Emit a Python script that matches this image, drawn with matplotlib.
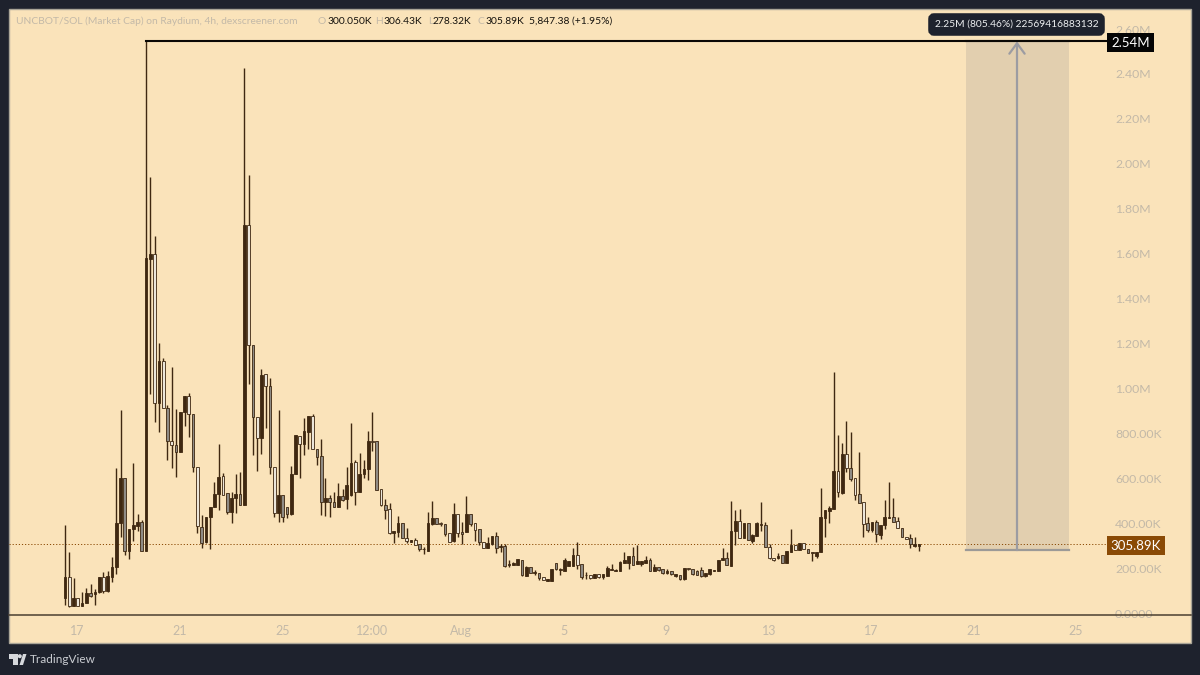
import matplotlib
matplotlib.use('Agg')
import matplotlib.pyplot as plt
from matplotlib.patches import Rectangle, FancyBboxPatch, Polygon, Circle

# 4h candles in thousands of market cap
opens = [66,162,33,66,32,46,91,85,94,159,98,162,206,402,602,278,374,389,407,278,
         1578,1600,936,1121,911,767,748,715,896,965,884,651,384,315,426,473,528,610,533,451,
         510,529,483,1726,1192,873,781,1062,1012,651,446,525,470,439,618,789,752,807,876,732,
         698,492,514,495,473,520,506,525,673,540,617,643,768,765,550,480,461,354,359,399,
         335,317,325,305,283,276,395,421,400,395,355,321,439,362,362,439,399,374,318,291,
         306,343,294,300,213,212,214,236,166,206,179,180,159,144,143,221,193,189,211,211,
         258,218,170,169,157,174,160,166,192,189,188,224,221,255,218,218,221,236,188,206,
         198,176,187,164,169,150,201,194,188,191,164,173,189,188,236,247,210,366,409,335,
         399,322,344,393,391,292,246,243,258,224,273,303,281,310,285,267,255,273,425,456,
         463,634,536,706,644,599,528,496,399,370,404,347,392,425,426,410,377,340,333,298,300]
highs = [392,270,155,66,95,110,129,106,162,181,189,251,644,904,602,374,666,441,414,2545,
         1941,1677,1200,1137,925,1096,909,896,968,980,884,651,436,429,473,582,752,622,533,540,
         621,629,2428,1949,1192,873,1088,1066,1048,651,906,525,470,654,792,789,869,876,885,732,
         773,602,525,537,577,550,648,848,681,713,681,810,893,765,550,506,488,365,433,399,
         377,325,332,305,295,448,499,421,405,395,355,491,439,407,522,439,399,374,318,340,
         343,362,306,306,236,225,241,236,208,206,192,180,159,152,194,221,200,246,232,288,
         318,218,181,169,172,174,175,211,218,194,231,270,255,295,302,233,255,243,216,206,
         198,198,187,175,169,201,201,194,190,203,176,194,191,238,290,270,498,458,462,402,
         399,352,405,492,403,305,246,265,258,276,373,303,310,310,285,269,273,558,459,476,
         1071,792,758,856,804,599,715,496,429,404,414,392,503,585,511,426,377,340,352,337,306]
lows = [36,26,33,33,29,44,73,36,91,91,95,140,172,340,258,241,322,365,278,278,
        977,851,807,911,681,644,604,715,832,782,629,355,288,310,285,470,459,525,441,399,
        445,483,483,1019,703,632,707,825,617,428,403,403,421,437,618,603,703,730,730,658,
        436,431,428,470,470,500,461,520,483,540,599,592,721,547,476,417,351,313,340,335,
        310,315,302,277,262,276,392,395,389,345,318,318,340,307,360,389,321,303,291,291,
        303,269,273,203,203,212,214,166,165,177,169,147,145,142,141,192,169,187,209,209,
        195,152,152,151,155,158,152,165,190,187,187,222,196,213,218,210,221,186,186,188,
        174,174,171,160,148,148,192,170,167,162,162,171,186,186,234,212,208,302,336,333,
        325,310,342,366,292,240,233,241,224,224,271,281,279,285,266,233,244,271,340,399,
        461,515,528,629,588,503,491,340,362,362,315,330,373,423,405,377,340,330,291,296,278]
closes = [162,32,66,33,46,91,76,95,162,98,165,206,402,602,278,374,392,404,278,1580,
          1597,936,1121,911,767,748,715,896,965,884,651,387,310,429,473,528,607,525,451,513,
          529,483,1726,1192,873,781,1059,1012,651,446,525,428,440,621,792,752,810,876,730,695,
          492,514,495,470,520,503,572,670,540,621,643,765,762,547,480,458,354,365,399,335,
          322,325,302,283,285,399,424,395,395,352,318,439,355,350,439,396,370,318,291,310,
          343,288,300,211,214,221,239,169,206,177,181,155,147,152,194,194,196,236,232,258,
          214,162,168,154,172,160,172,199,194,192,228,236,255,213,233,233,236,188,206,191,
          176,187,173,172,150,201,194,172,169,164,176,194,191,238,247,212,366,409,336,402,
          325,347,399,396,292,246,238,253,224,276,303,281,310,285,266,269,273,426,459,466,
          634,540,706,644,595,525,491,396,370,404,352,392,426,427,407,377,340,330,306,306,306]
grey_bars = [6,14,18,24,26,30,32,38,41,44,48,51,52,59,60,62,63,65,73,75,79,83,87,89,93,95,97,
             101,103,107,109,111,115,121,133,137,139,140,142,144,147,148,149,155,160,164,168,
             174,184,186,188,190,194,196,198]

y_ticks = [0,200,400,600,800,1000,1200,1400,1600,1800,2000,2200,2400,2600]
y_labels = ['0.0000','200.00K','400.00K','600.00K','800.00K','1.00M','1.20M','1.40M','1.60M',
            '1.80M','2.00M','2.20M','2.40M','2.60M']
x_labels = ['17','21','25','12:00','Aug','5','9','13','17','21','25']
x_ticks = [2.8,26.8,50.9,72,92.7,116.9,140.8,164.9,188.8,212.9,236.7]

last_price = 305.89
peak = 2545
range_low = 280

DARK = '#1e222d'
CREAM = '#fae3ba'
UP = '#3f2811'
LABEL = '#c3b9a8'
BAR_PX = 4.27

plt.rcParams['font.family'] = ['Lato', 'DejaVu Sans']
fig = plt.figure(figsize=(12, 6.75), dpi=100, facecolor=DARK)


def bar_at(px):
    return (px - 65) / BAR_PX


# panel and logo, in pixels
back = fig.add_axes([0, 0, 1, 1], zorder=0)
back.set_xlim(0, 1200)
back.set_ylim(675, 0)
back.axis('off')
back.add_patch(Rectangle((9, 9), 1182, 634, fc=CREAM, ec='#aaa597', lw=1))
back.add_patch(Polygon([(9, 654), (17.5, 654), (17.5, 665), (13, 665), (13, 659), (9, 659)], fc='#d6d8dc', ec='none'))
back.add_patch(Polygon([(19.5, 665), (23, 654), (26.5, 654), (23, 665)], fc='#d6d8dc', ec='none'))
back.add_patch(Circle((19.8, 656.2), 2, fc='#d6d8dc', ec='none'))
back.text(30, 659.5, 'TradingView', color='#c9ccd1', fontsize=8.5, va='center')

ax = fig.add_axes([9 / 1200, 60 / 675, 1182 / 1200, 606 / 675], zorder=1)
ax.patch.set_alpha(0)
ax.set_xlim(bar_at(9), bar_at(1191))
ax.set_ylim((613 - 615) / 0.2246, (613 - 9) / 0.2246)

for side in ['top', 'left', 'right']:
    ax.spines[side].set_visible(False)
ax.spines['bottom'].set_color('#4a3f30')
ax.spines['bottom'].set_linewidth(1.1)

# measure box behind the candles
ax.fill_between([bar_at(966), bar_at(1069)], range_low, peak, color='#e2cfaf', lw=0, zorder=1)
ax.plot([bar_at(966), bar_at(1069)], [range_low, range_low], color='#9c9a97', lw=1.6, zorder=2)
ax.plot([bar_at(966), bar_at(1069)], [peak, peak], color='#9c9a97', lw=1.6, zorder=2)
ax.annotate('', xy=(bar_at(1017), peak), xytext=(bar_at(1017), range_low), zorder=3,
            arrowprops=dict(arrowstyle='->,head_length=0.75,head_width=0.55', color='#9c9ca2', lw=1.6,
                            shrinkA=0, shrinkB=0))

ax.axhline(last_price, xmax=(1107 - 9) / 1182, color='#8a4a05', lw=0.7, ls=(0, (1.2, 2)), zorder=2)
ax.plot([19, bar_at(1107)], [peak, peak], color='#0a0805', lw=1.5, zorder=5)

# candles
for i in range(len(opens)):
    top = max(opens[i], closes[i])
    bottom = min(opens[i], closes[i])
    ax.vlines(i, lows[i], highs[i], color=UP, lw=1, zorder=3)
    if closes[i] > opens[i]:
        face = UP
    elif i in grey_bars:
        face = '#8f8b85'
    else:
        face = '#ece6da'
    ax.bar(i, max(top - bottom, 3), bottom=bottom, width=0.64, color=face, edgecolor=UP, lw=0.6, zorder=4)

ax.yaxis.tick_right()
ax.set_yticks(y_ticks, y_labels)
ax.tick_params(axis='y', length=0, pad=-76 * 0.72, labelsize=8.8, labelcolor=LABEL)
ax.set_xticks(x_ticks, x_labels)
ax.tick_params(axis='x', length=0, pad=7, labelsize=9, labelcolor=LABEL)

# labels on top, in pixels
front = fig.add_axes([0, 0, 1, 1], zorder=2)
front.set_xlim(0, 1200)
front.set_ylim(675, 0)
front.axis('off')

front.add_patch(Rectangle((1107, 33), 47, 19, fc='#050505', ec='none'))
front.text(1130.5, 43, '2.54M', color='white', fontsize=9.5, ha='center', va='center')
front.add_patch(Rectangle((1107, 536), 58, 19, fc='#8a4a05', ec='none'))
front.text(1136, 545.5, '305.89K', color='white', fontsize=9.5, ha='center', va='center')
front.add_patch(FancyBboxPatch((931, 16), 171, 17, boxstyle='round,pad=0,rounding_size=3', fc=DARK, ec=DARK, lw=4))
front.text(1016.5, 24, '2.25M (805.46%) 22569416883132', color='#eceef0', fontsize=7.4, ha='center', va='center')

front.text(16, 21.5, 'UNCBOT/SOL (Market Cap) on Raydium, 4h, dexscreener.com', color=LABEL, fontsize=7.4, va='center')
for px, s, c in [(318, 'O', LABEL), (327, '300.050K', '#15120d'), (375, 'H', LABEL), (384, '306.43K', '#15120d'),
                 (428, 'L', LABEL), (433, '278.32K', '#15120d'), (478, 'C', LABEL), (485, '305.89K', '#15120d'),
                 (529, '5,847.38 (+1.95%)', '#15120d')]:
    front.text(px, 21.5, s, color=c, fontsize=7.4, va='center')

fig.savefig('out.png', dpi=100, facecolor=DARK)
